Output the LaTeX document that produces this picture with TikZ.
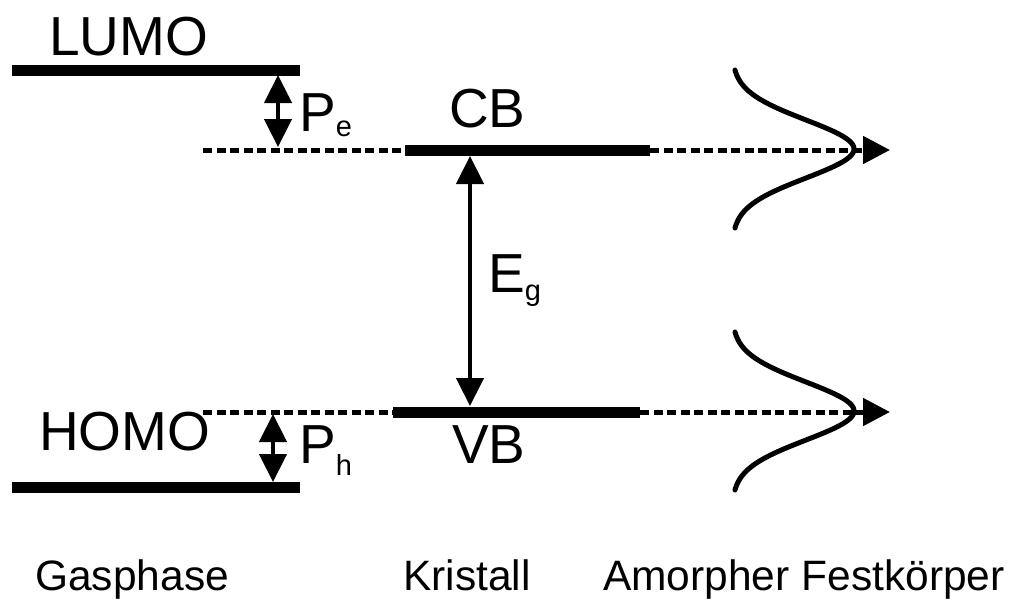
\documentclass[tikz,border=0pt]{standalone}
\usepackage{fontspec}
\setmainfont{Liberation Sans}
\usetikzlibrary{arrows.meta}
\begin{document}
\begin{tikzpicture}[x=1pt,y=-1pt,
  level/.style={line width=11pt},
  dashline/.style={line width=5pt, dash pattern=on 9pt off 4.5pt},
  tipr/.style={-{Triangle[width=27pt,length=27pt]}},
  gaparrow/.style={line width=4.5pt, {Triangle[width=27pt,length=28pt]}-{Triangle[width=27pt,length=28pt]}},
  big/.style={font=\fontsize{55}{60}\selectfont, inner sep=0pt, anchor=base west},
  lab/.style={font=\fontsize{42.5}{46}\selectfont, inner sep=0pt, anchor=base west},
  dos/.style={line width=5pt, line cap=round}
]
\useasboundingbox (0,0) rectangle (1018,608);

% levels
\coordinate (lumoL) at (12,70);  \coordinate (lumoR) at (300,70);
\coordinate (homoL) at (12,487); \coordinate (homoR) at (300,487);
\coordinate (cbL) at (405,150);  \coordinate (cbR) at (650,150);
\coordinate (vbL) at (393,412);  \coordinate (vbR) at (640,412);
\coordinate (dTL) at (203,150);  \coordinate (aTR) at (890,150);
\coordinate (dBL) at (203,412);  \coordinate (aBR) at (890,412);

\draw[level] (lumoL) -- (lumoR);
\draw[level] (homoL) -- (homoR);
\draw[level] (cbL) -- (cbR);
\draw[level] (vbL) -- (vbR);

\draw[dashline] (dTL) -- (cbL);
\draw[dashline] (dBL) -- (vbL);
\draw[dashline,tipr] (cbR) -- (aTR);
\draw[dashline,tipr] (vbR) -- (aBR);

% gap arrows
\coordinate (pe1) at (278,75);  \coordinate (pe2) at (278,147);
\coordinate (ph1) at (273,414); \coordinate (ph2) at (273,482);
\coordinate (eg1) at (470,156); \coordinate (eg2) at (470,406);
\draw[gaparrow] (pe1) -- (pe2);
\draw[gaparrow] (ph1) -- (ph2);
\draw[gaparrow] (eg1) -- (eg2);

% density of states
\draw[dos] plot[domain=-79:79, samples=90, smooth] ({735+122*(exp(-(\x*\x)/(2*29*29))-0.0245)}, {149+\x});
\draw[dos] plot[domain=-79:79, samples=90, smooth] ({735+122*(exp(-(\x*\x)/(2*29*29))-0.0245)}, {411+\x});

% labels
\node[big] (lumo) at (49,55) {LUMO};
\node[big] (homo) at (39,450) {HOMO};
\node[big] (cb) at (449,127) {CB};
\node[big] (vb) at (452,463) {VB};
\node[big] (pe) at (299,131) {P\raisebox{-5pt}{\fontsize{29}{32}\selectfont e}};
\node[big] (ph) at (299,463) {P\raisebox{-12pt}{\fontsize{29}{32}\selectfont h}};
\node[big] (eg) at (488,292) {E\raisebox{-8pt}{\fontsize{29}{32}\selectfont g}};

\node[lab] (gas) at (35,590) {Gasphase};
\node[lab] (kri) at (403,590) {Kristall};
\node[lab] (amo) at (603,590) {Amorpher Festkörper};
\end{tikzpicture}
\end{document}
